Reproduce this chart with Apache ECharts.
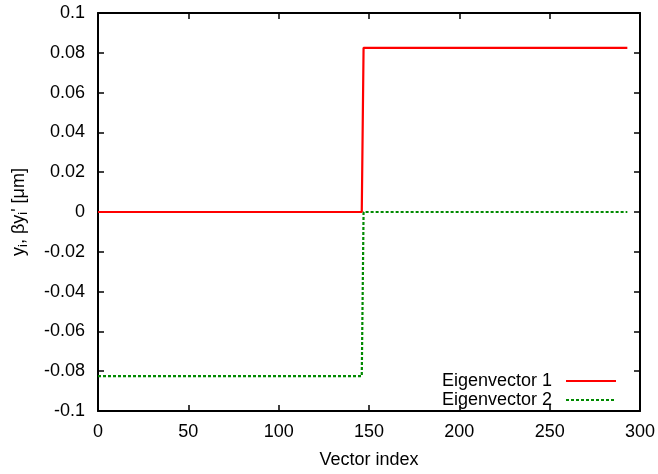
<!DOCTYPE html>
<html>
<head>
<meta charset="utf-8">
<script src="https://cdn.jsdelivr.net/npm/echarts@6/dist/echarts.min.js"></script>
<style>
html,body{margin:0;padding:0;background:#fff;}
#chart{width:658px;height:474px;}
</style>
</head>
<body>
<div id="chart"></div>
<script>
// Data (vector index, value)
const seriesNames = ['Eigenvector 1', 'Eigenvector 2'];
const ev1 = [[0, 0], [146, 0], [147, 0.0825], [293, 0.0825]];
const ev2 = [[0, -0.0825], [146, -0.0825], [147, 0], [293, 0]];
const xTicks = [0, 50, 100, 150, 200, 250, 300];
const yTicks = [-0.1, -0.08, -0.06, -0.04, -0.02, 0, 0.02, 0.04, 0.06, 0.08, 0.1];

const FONT = 'Liberation Sans, Arial, Helvetica, sans-serif';
const FS = 18;
const chart = echarts.init(document.getElementById('chart'));
const tickStyle = {show: true, inside: true, length: 6, lineStyle: {color: '#000', width: 1.5}};
const lineStyleAxis = {show: true, onZero: false, lineStyle: {color: '#000', width: 2}};
chart.setOption({
  animation: false,
  backgroundColor: '#fff',
  grid: {left: 98, right: 18, top: 13, bottom: 62},
  legend: {
    orient: 'vertical',
    right: 36,
    top: 367,
    align: 'right',
    itemWidth: 50,
    itemHeight: 10,
    itemGap: 1,
    itemStyle: {opacity: 0},
    textStyle: {fontFamily: FONT, fontSize: FS, color: '#000', padding: [0, 9, 0, 0]},
    data: seriesNames
  },
  xAxis: [{
    type: 'value', min: xTicks[0], max: xTicks[xTicks.length - 1], interval: 50,
    name: 'Vector index', nameLocation: 'middle', nameGap: 40,
    nameTextStyle: {fontFamily: FONT, fontSize: FS, color: '#000'},
    axisLine: lineStyleAxis, axisTick: tickStyle, splitLine: {show: false},
    axisLabel: {fontFamily: FONT, fontSize: FS, color: '#000', margin: 12}
  }, {
    type: 'value', position: 'top', min: xTicks[0], max: xTicks[xTicks.length - 1], interval: 50,
    axisLine: lineStyleAxis, axisTick: tickStyle, splitLine: {show: false}, axisLabel: {show: false}
  }],
  yAxis: [{
    type: 'value', min: yTicks[0], max: yTicks[yTicks.length - 1], interval: 0.02,
    name: 'y{sub|i}, βy{sub|i}\' [μm]', nameLocation: 'middle', nameGap: 68, nameRotate: 90,
    nameTextStyle: {fontFamily: FONT, fontSize: 18, color: '#000',
      rich: {sub: {fontFamily: FONT, fontSize: 13, color: '#000', verticalAlign: 'bottom', padding: [8, 0, 0, 0]}}},
    axisLine: lineStyleAxis, axisTick: tickStyle, splitLine: {show: false},
    axisLabel: {fontFamily: FONT, fontSize: FS, color: '#000', margin: 13,
      formatter: v => parseFloat(v.toFixed(2)).toString()}
  }, {
    type: 'value', position: 'right', min: yTicks[0], max: yTicks[yTicks.length - 1], interval: 0.02,
    axisLine: lineStyleAxis, axisTick: tickStyle, splitLine: {show: false}, axisLabel: {show: false}
  }],
  series: [{
    name: seriesNames[0], type: 'line', data: ev1, symbol: 'none',
    lineStyle: {color: '#ff0000', width: 2.2}, itemStyle: {color: '#ff0000'}, z: 3
  }, {
    name: seriesNames[1], type: 'line', data: ev2, symbol: 'none',
    lineStyle: {color: '#008a00', width: 2.2, type: [3, 2]}, itemStyle: {color: '#008a00'}, z: 2
  }]
});
</script>
</body>
</html>
